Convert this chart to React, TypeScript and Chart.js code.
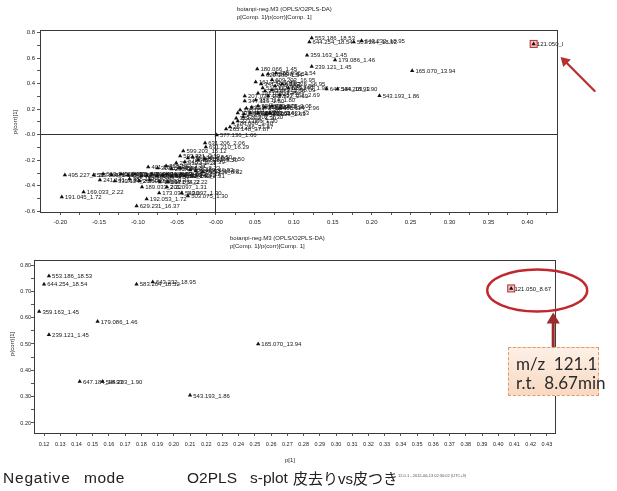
import React, { useEffect, useRef } from 'react';
import { Chart, registerables } from 'chart.js';

Chart.register(...registerables);

// Feature identifiers (m/z_retention time) with their S-plot coordinates
const featureIds = [
  '553.186_18.53', '644.254_18.54', '583.264_18.52', '643.232_18.95', '359.163_1.45',
  '179.086_1.46', '239.121_1.45', '165.070_13.94', '647.184_18.93', '544.203_1.90',
  '543.193_1.86', '121.050_8.67',
  '180.066_1.45', '629.185_1.54', '385.098_1.54', '465.096_1.54', '609.203_16.95',
  '161.045_1.45', '341.109_1.83', '519.113_1.83', '377.085_1.54', '683.225_16.95',
  '555.225_16.09', '623.243_1.90', '303.051_1.66', '207.039_2.27', '347.119_1.80',
  '387.114_1.80', '449.122_2.69', '191.019_1.45', '457.152_2.69', '195.051_1.96',
  '533.172_1.96', '215.033_1.96', '371.098_2.05', '325.184_1.96', '289.072_2.05',
  '405.114_1.96', '133.014_1.63', '173.045_1.63', '493.169_1.63', '433.207_1.63',
  '447.093_1.63', '361.114_1.63', '329.232_1.30', '521.202_1.30', '186.086_1.30',
  '221.066_1.30', '253.256_37.87', '265.148_37.87', '577.136_1.66',
  '631.206_2.06', '691.210_16.29', '599.203_15.12', '593.321_2.39', '431.191_8.50',
  '611.161_8.50', '467.222_8.50', '515.119_8.50', '345.155_2.39', '277.103_2.31',
  '401.185_2.31', '313.129_2.31', '355.103_2.31', '299.076_2.22', '451.127_2.22',
  '461.129_16.92', '787.298_16.92', '565.136_8.52',
  '495.227_2.22', '533.868_0.98', '563.140_0.98', '481.140_2.22', '577.153_2.22',
  '635.153_2.31', '325.113_2.31', '415.161_2.31', '289.119_2.22', '343.124_2.22',
  '473.166_2.31', '305.067_2.22', '367.103_2.22', '417.150_2.31', '507.156_2.22',
  '319.082_2.22', '455.140_2.31',
  '241.141_2.31', '339.124_2.31', '385.150_2.22', '267.087_2.22', '357.129_2.31',
  '441.171_2.22', '153.034_2.22', '189.033_2.22', '201.097_1.31', '173.031_1.30',
  '549.097_1.30', '503.075_1.30', '192.053_1.72', '629.231_16.37', '169.033_2.22',
  '191.045_1.72',
];

// p[1] loading
const pLoading = [
  0.123, 0.120, 0.177, 0.187, 0.117,
  0.153, 0.123, 0.252, 0.142, 0.156,
  0.210, 0.408,
  0.053, 0.060, 0.067, 0.077, 0.072,
  0.051, 0.058, 0.060, 0.076, 0.085,
  0.072, 0.093, 0.063, 0.037, 0.037,
  0.051, 0.067, 0.054, 0.082, 0.031,
  0.039, 0.046, 0.054, 0.063, 0.072,
  0.082, 0.028, 0.036, 0.044, 0.054,
  0.064, 0.069, 0.026, 0.035, 0.022,
  0.028, 0.018, 0.013, 0.001,
  -0.014, -0.013, -0.042, -0.046, -0.036,
  -0.030, -0.023, -0.014, -0.040, -0.051,
  -0.087, -0.075, -0.064, -0.057, -0.046,
  -0.033, -0.026, -0.017,
  -0.194, -0.157, -0.145, -0.134, -0.122,
  -0.113, -0.104, -0.096, -0.089, -0.082,
  -0.076, -0.069, -0.063, -0.057, -0.051,
  -0.045, -0.040,
  -0.149, -0.130, -0.111, -0.098, -0.085,
  -0.072, -0.062, -0.095, -0.063, -0.073,
  -0.044, -0.036, -0.089, -0.102, -0.170,
  -0.198,
];

// p(corr)[1]
const pCorr = [
  0.758, 0.727, 0.727, 0.735, 0.623,
  0.585, 0.535, 0.500, 0.358, 0.358,
  0.305, 0.711,
  0.514, 0.467, 0.475, 0.483, 0.430,
  0.413, 0.397, 0.366, 0.381, 0.397,
  0.350, 0.366, 0.342, 0.303, 0.264,
  0.271, 0.303, 0.325, 0.311, 0.193,
  0.208, 0.216, 0.224, 0.216, 0.224,
  0.208, 0.170, 0.162, 0.170, 0.170,
  0.162, 0.170, 0.130, 0.138, 0.092,
  0.107, 0.060, 0.044, -0.002,
  -0.065, -0.096, -0.128, -0.167, -0.182,
  -0.175, -0.198, -0.190, -0.214, -0.222,
  -0.253, -0.261, -0.245, -0.269, -0.261,
  -0.276, -0.284, -0.292,
  -0.316, -0.316, -0.308, -0.316, -0.308,
  -0.316, -0.308, -0.323, -0.316, -0.308,
  -0.323, -0.316, -0.308, -0.323, -0.316,
  -0.308, -0.323,
  -0.355, -0.363, -0.347, -0.363, -0.355,
  -0.370, -0.370, -0.410, -0.410, -0.456,
  -0.456, -0.480, -0.503, -0.558, -0.449,
  -0.488,
];

const highlightId = '121.050_8.67';

// Axis ticks
const overviewXTicks = [
  -0.2, -0.175, -0.15, -0.125, -0.1, -0.075, -0.05, -0.025, 0, 0.025, 0.05, 0.075,
  0.1, 0.125, 0.15, 0.175, 0.2, 0.225, 0.25, 0.275, 0.3, 0.325, 0.35, 0.375, 0.4, 0.425,
];
const overviewYTicks = [-0.6, -0.5, -0.4, -0.3, -0.2, -0.1, 0, 0.1, 0.2, 0.3, 0.4, 0.5, 0.6, 0.7, 0.8];
const zoomXTicks = [
  0.12, 0.13, 0.14, 0.15, 0.16, 0.17, 0.18, 0.19, 0.2, 0.21, 0.22, 0.23, 0.24, 0.25, 0.26, 0.27,
  0.28, 0.29, 0.3, 0.31, 0.32, 0.33, 0.34, 0.35, 0.36, 0.37, 0.38, 0.39, 0.4, 0.41, 0.42, 0.43,
];
const zoomYTicks = [0.2, 0.25, 0.3, 0.35, 0.4, 0.45, 0.5, 0.55, 0.6, 0.65, 0.7, 0.75, 0.8];

const modelTitle = 'botanpi-neg.M3 (OPLS/O2PLS-DA)';
const plotTitle = 'p[Comp. 1]/p(corr)[Comp. 1]';

const LABEL_FONT = '6px "Liberation Sans", Arial, sans-serif';
const TICK_COLOR = '#222';

const points = pLoading.map((x, i) => ({ x, y: pCorr[i] }));
const highlightIndex = featureIds.indexOf(highlightId);

// Names every marker next to its triangle
const featureLabelPlugin = {
  id: 'featureLabels',
  beforeDatasetsDraw(chart: any) {
    const { ctx, chartArea: a } = chart;
    const el = chart.getDatasetMeta(0).data[highlightIndex];
    if (!el || el.x > a.right || el.y < a.top) return;
    ctx.save();
    ctx.fillStyle = '#f1c3c3';
    ctx.strokeStyle = '#b5302f';
    ctx.lineWidth = 1;
    ctx.fillRect(el.x - 3.5, el.y - 3.5, 7, 7);
    ctx.strokeRect(el.x - 3.5, el.y - 3.5, 7, 7);
    ctx.restore();
  },
  afterDatasetsDraw(chart: any) {
    const { ctx, chartArea: a } = chart;
    const meta = chart.getDatasetMeta(0);
    ctx.save();
    ctx.beginPath();
    ctx.rect(a.left, a.top - 5, a.right - a.left + 6, a.bottom - a.top + 10);
    ctx.clip();
    ctx.font = LABEL_FONT;
    ctx.fillStyle = '#161616';
    ctx.textAlign = 'left';
    ctx.textBaseline = 'middle';
    meta.data.forEach((el: any, i: number) => {
      if (el.x < a.left - 1 || el.x > a.right + 1 || el.y < a.top - 1 || el.y > a.bottom + 1) return;
      ctx.fillText(featureIds[i], el.x + 3.2, el.y + 0.5);
    });
    ctx.restore();
  },
};

// Box around the plotting area
const framePlugin = {
  id: 'frame',
  afterDraw(chart: any) {
    const { ctx, chartArea: a } = chart;
    ctx.save();
    ctx.strokeStyle = '#3a3a3a';
    ctx.lineWidth = 1;
    ctx.strokeRect(Math.round(a.left) + 0.5, Math.round(a.top) + 0.5, Math.round(a.right - a.left), Math.round(a.bottom - a.top));
    ctx.restore();
  },
};

function drawArrow(ctx: any, x0: number, y0: number, x1: number, y1: number, width: number, head: number, color: string) {
  const ang = Math.atan2(y1 - y0, x1 - x0);
  const bx = x1 - Math.cos(ang) * head;
  const by = y1 - Math.sin(ang) * head;
  ctx.save();
  ctx.strokeStyle = color;
  ctx.fillStyle = color;
  ctx.lineWidth = width;
  ctx.lineCap = 'round';
  ctx.beginPath();
  ctx.moveTo(x0, y0);
  ctx.lineTo(bx, by);
  ctx.stroke();
  ctx.beginPath();
  ctx.moveTo(x1, y1);
  ctx.lineTo(bx + Math.sin(ang) * head * 0.6, by - Math.cos(ang) * head * 0.6);
  ctx.lineTo(bx - Math.sin(ang) * head * 0.6, by + Math.cos(ang) * head * 0.6);
  ctx.closePath();
  ctx.fill();
  ctx.restore();
}

// Pointer towards the highlighted feature in the overview plot
const overviewCalloutPlugin = {
  id: 'overviewCallout',
  afterDraw(chart: any) {
    const el = chart.getDatasetMeta(0).data[highlightIndex];
    if (!el) return;
    drawArrow(chart.ctx, el.x + 61, el.y + 47, el.x + 27, el.y + 13, 2.2, 9, '#b3302e');
  },
};

// Ellipse and arrow marking the highlighted feature in the zoomed plot
const zoomCalloutPlugin = {
  id: 'zoomCallout',
  afterDraw(chart: any) {
    const el = chart.getDatasetMeta(0).data[highlightIndex];
    if (!el) return;
    const ctx = chart.ctx;
    ctx.save();
    ctx.strokeStyle = '#c1272d';
    ctx.lineWidth = 2.4;
    ctx.beginPath();
    ctx.ellipse(el.x + 26, el.y + 2, 50, 21, 0, 0, Math.PI * 2);
    ctx.stroke();
    ctx.restore();
    drawArrow(ctx, el.x + 42, el.y + 60, el.x + 42, el.y + 24, 3, 11, '#9c2b2b');
  },
};

function fmt(v: number, digits: number) {
  if (Math.abs(v) < 1e-9) return '-' + (0).toFixed(digits);
  return v.toFixed(digits);
}

function buildOptions(cfg: any) {
  return {
    animation: false,
    responsive: false,
    devicePixelRatio: 1,
    events: [],
    layout: { padding: cfg.padding },
    plugins: { legend: { display: false }, tooltip: { enabled: false }, title: { display: false } },
    scales: {
      x: {
        type: 'linear',
        min: cfg.xMin,
        max: cfg.xMax,
        afterBuildTicks(scale: any) {
          scale.ticks = cfg.xTicks.map((v: number) => ({ value: v }));
        },
        afterFit(scale: any) {
          scale.height = cfg.xHeight;
        },
        ticks: {
          autoSkip: false,
          maxRotation: 0,
          minRotation: 0,
          padding: cfg.xPad,
          color: TICK_COLOR,
          font: { family: '"Liberation Sans", Arial, sans-serif', size: cfg.xFont },
          callback: (v: number) => cfg.xLabel(v),
        },
        grid: {
          drawOnChartArea: cfg.zeroLines,
          color: (c: any) => (c.tick && Math.abs(c.tick.value) < 1e-9 ? '#333' : 'rgba(0,0,0,0)'),
          tickColor: '#555',
          tickLength: 3,
          lineWidth: 1,
        },
        border: { display: true, color: '#3a3a3a' },
      },
      y: {
        type: 'linear',
        min: cfg.yMin,
        max: cfg.yMax,
        afterBuildTicks(scale: any) {
          scale.ticks = cfg.yTicks.map((v: number) => ({ value: v }));
        },
        afterFit(scale: any) {
          scale.width = cfg.yWidth;
        },
        ticks: {
          padding: cfg.yPad,
          color: TICK_COLOR,
          font: { family: '"Liberation Sans", Arial, sans-serif', size: cfg.yFont },
          callback: (v: number) => cfg.yLabel(v),
        },
        grid: {
          drawOnChartArea: cfg.zeroLines,
          color: (c: any) => (c.tick && Math.abs(c.tick.value) < 1e-9 ? '#333' : 'rgba(0,0,0,0)'),
          tickColor: '#555',
          tickLength: 3,
          lineWidth: 1,
        },
        border: { display: true, color: '#3a3a3a' },
      },
    },
  };
}

const dataset = {
  data: points,
  pointStyle: 'triangle',
  pointRadius: 2.5,
  pointBackgroundColor: '#111',
  pointBorderColor: '#111',
  pointBorderWidth: 0,
  showLine: false,
};

const titleStyle: React.CSSProperties = {
  position: 'absolute',
  fontSize: 6,
  lineHeight: '7px',
  color: '#222',
  whiteSpace: 'pre',
};

const captionStyle: React.CSSProperties = { position: 'absolute', whiteSpace: 'pre' };

export default function App() {
  const overviewRef = useRef<HTMLCanvasElement>(null);
  const zoomRef = useRef<HTMLCanvasElement>(null);

  useEffect(() => {
    const overview = new Chart(overviewRef.current as HTMLCanvasElement, {
      type: 'scatter',
      data: { datasets: [{ ...dataset }] },
      options: buildOptions({
        padding: { left: 0, top: 30, right: 60, bottom: 10 },
        xMin: -0.226, xMax: 0.438, yMin: -0.605, yMax: 0.82,
        xTicks: overviewXTicks, yTicks: overviewYTicks,
        xHeight: 18, yWidth: 40, xPad: 4, yPad: 2, xFont: 6, yFont: 6,
        xLabel: (v: number) => (Math.round(v * 1000) % 50 === 0 ? fmt(v, 2) : ''),
        yLabel: (v: number) => (Math.round(v * 10) % 2 === 0 ? fmt(v, 1) : ''),
        zeroLines: true,
      }) as any,
      plugins: [featureLabelPlugin, framePlugin, overviewCalloutPlugin],
    });
    const zoom = new Chart(zoomRef.current as HTMLCanvasElement, {
      type: 'scatter',
      data: { datasets: [{ ...dataset }] },
      options: buildOptions({
        padding: { left: 0, top: 20, right: 62, bottom: 19 },
        xMin: 0.1138, xMax: 0.435, yMin: 0.162, yMax: 0.819,
        xTicks: zoomXTicks, yTicks: zoomYTicks,
        xHeight: 18, yWidth: 34, xPad: 5, yPad: 0, xFont: 5.5, yFont: 5.5,
        xLabel: (v: number) => v.toFixed(2),
        yLabel: (v: number) => (Math.round(v * 100) % 10 === 0 ? v.toFixed(2) : ''),
        zeroLines: false,
      }) as any,
      plugins: [featureLabelPlugin, framePlugin, zoomCalloutPlugin],
    });
    return () => {
      overview.destroy();
      zoom.destroy();
    };
  }, []);

  return (
    <div
      style={{
        position: 'absolute',
        left: 0,
        top: 0,
        width: 617,
        height: 491,
        background: '#fff',
        overflow: 'hidden',
        fontFamily: '"Liberation Sans", Arial, sans-serif',
      }}
    >
      <canvas ref={overviewRef} width={617} height={240} style={{ position: 'absolute', left: 0, top: 0, width: 617, height: 240 }} />
      <canvas ref={zoomRef} width={617} height={230} style={{ position: 'absolute', left: 0, top: 240, width: 617, height: 230 }} />

      <div style={{ ...titleStyle, left: 237, top: 6 }}>{modelTitle}</div>
      <div style={{ ...titleStyle, left: 237, top: 14 }}>{plotTitle}</div>
      <div style={{ ...titleStyle, left: 230, top: 235 }}>{modelTitle}</div>
      <div style={{ ...titleStyle, left: 230, top: 243 }}>{plotTitle}</div>

      <div style={{ ...titleStyle, left: 15, top: 122, transform: 'translate(-50%, -50%) rotate(-90deg)' }}>p(corr)[1]</div>
      <div style={{ ...titleStyle, left: 12, top: 344, transform: 'translate(-50%, -50%) rotate(-90deg)' }}>p(corr)[1]</div>
      <div style={{ ...titleStyle, left: 290, top: 457, transform: 'translateX(-50%)' }}>p[1]</div>

      <div
        style={{
          position: 'absolute',
          left: 508,
          top: 347,
          width: 89,
          height: 47,
          border: '1px dashed #e39a5c',
          background: 'linear-gradient(#fdf0e6, #f8d8c2)',
        }}
      />
      <div style={{ position: 'absolute', left: 516, top: 354, fontFamily: 'Lato, "Liberation Sans", sans-serif', fontSize: 17, lineHeight: '19px', color: '#2a2a2a', whiteSpace: 'pre' }}>
        {'m/z  121.1'}
      </div>
      <div style={{ position: 'absolute', left: 516, top: 373, fontFamily: 'Lato, "Liberation Sans", sans-serif', fontSize: 17, lineHeight: '19px', color: '#2a2a2a', whiteSpace: 'pre' }}>
        {'r.t.  8.67min'}
      </div>

      <div style={{ position: 'absolute', left: 0, top: 468, width: 617, height: 22, fontSize: 15.5, lineHeight: '20px', color: '#222', fontFamily: '"Liberation Sans", "Noto Sans CJK JP", sans-serif' }}>
        <span style={{ ...captionStyle, left: 3, letterSpacing: 0.8 }}>Negative</span>
        <span style={{ ...captionStyle, left: 84, letterSpacing: 0.5 }}>mode</span>
        <span style={{ ...captionStyle, left: 187 }}>O2PLS</span>
        <span style={{ ...captionStyle, left: 250 }}>s-plot</span>
        <span style={{ ...captionStyle, left: 293, fontFamily: '"Noto Sans CJK JP", sans-serif', fontSize: 15 }}>
          皮去り<span style={{ fontFamily: '"Liberation Sans", sans-serif' }}>vs</span>皮つき
        </span>
      </div>
      <div style={{ position: 'absolute', left: 398, top: 474, fontSize: 8, lineHeight: '8px', color: '#555', whiteSpace: 'pre', transform: 'scale(0.5)', transformOrigin: '0 0' }}>
        12.0.1 - 2012-06-13 02:30:02 (UTC+9)
      </div>
    </div>
  );
}
